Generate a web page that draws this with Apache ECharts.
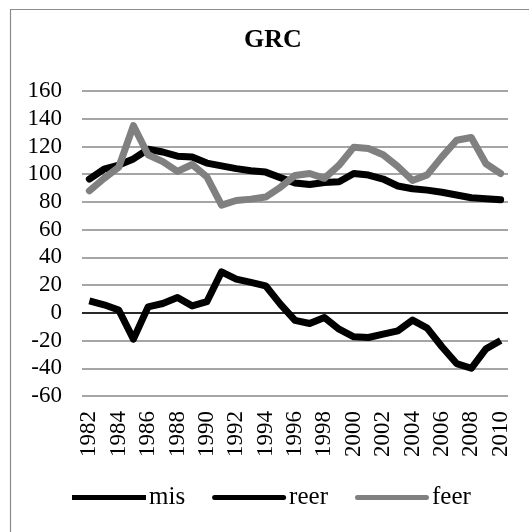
<!DOCTYPE html>
<html>
<head>
<meta charset="utf-8">
<script src="https://cdn.jsdelivr.net/npm/echarts@6/dist/echarts.min.js"></script>
<style>html,body{margin:0;padding:0;background:#fff}#c{width:529px;height:532px}</style>
</head>
<body>
<div id="c"></div>
<script>
var years = ['1982','1983','1984','1985','1986','1987','1988','1989','1990','1991','1992','1993','1994','1995','1996','1997','1998','1999','2000','2001','2002','2003','2004','2005','2006','2007','2008','2009','2010'];
var mis = [8.7, 5.8, 2, -19, 4.3, 6.7, 11, 5, 8, 29.5, 24.3, 22, 19.5, 6.3, -5.5, -7.7, -3.4, -11.8, -17.3, -17.8, -15.4, -13, -5.3, -11, -24.5, -36.6, -40, -26, -20];
var reer = [96.5, 103.7, 106.6, 111, 118, 116, 113, 112.4, 108, 106, 104, 102.5, 101.5, 97.5, 93.6, 92.5, 94, 94.5, 100.5, 99.4, 96.5, 91.5, 89.5, 88.5, 87, 85, 83, 82.3, 81.5];
var feer = [88, 97, 105, 135, 114, 109, 102, 107, 98, 77.7, 81, 82, 83.5, 90.5, 99, 100.5, 97, 106.5, 119.5, 118.5, 114, 105.5, 95.5, 99.5, 112.5, 124.5, 126.5, 107.5, 100.5];
var yTicks = {min: -60, max: 160, interval: 20};

var FONT = "'Liberation Serif', 'Times New Roman', serif";
var chart = echarts.init(document.getElementById('c'), null, {renderer: 'canvas'});
var capPath = 'path://M2.5,0 L71.5,0 A2.5,2.5 0 0 1 71.5,5 L2.5,5 A2.5,2.5 0 0 1 2.5,0 Z';
chart.setOption({
  backgroundColor: '#fff',
  animation: false,
  graphic: [{
    type: 'rect', left: 8, top: 7, silent: true,
    shape: {width: 540, height: 540},
    style: {fill: 'none', stroke: '#8c8c8c', lineWidth: 1.2}
  }],
  title: {
    text: 'GRC', left: 244, top: 27, padding: 0,
    textStyle: {fontFamily: FONT, fontSize: 26, fontWeight: 'bold', color: '#000'}
  },
  legend: {
    left: 72, top: 485, padding: 0, itemGap: 27, itemWidth: 74, itemHeight: 5,
    textStyle: {fontFamily: FONT, fontSize: 25, color: '#000', padding: [0, 0, 0, -2]},
    data: [
      {name: 'mis', icon: 'rect'},
      {name: 'reer', icon: capPath},
      {name: 'feer', icon: capPath}
    ]
  },
  grid: {left: 82, right: 21, top: 91, bottom: 136},
  xAxis: {
    type: 'category', data: years, boundaryGap: true,
    axisLine: {show: false}, axisTick: {show: false},
    axisLabel: {interval: 1, rotate: 90, margin: 15, fontFamily: FONT, fontSize: 23, color: '#000'},
    splitLine: {show: false}
  },
  yAxis: {
    type: 'value', min: yTicks.min, max: yTicks.max, interval: yTicks.interval,
    axisLine: {show: false}, axisTick: {show: false},
    axisLabel: {margin: 20, fontFamily: FONT, fontSize: 23, color: '#000'},
    splitLine: {lineStyle: {color: '#a5a5a5', width: 2}}
  },
  series: [
    {name: 'mis', type: 'line', data: mis, symbol: 'none', color: '#000',
     lineStyle: {color: '#000', width: 7, cap: 'butt', join: 'round'},
     markLine: {silent: true, symbol: 'none', label: {show: false},
       lineStyle: {color: '#000', width: 1.5, type: 'solid'}, data: [{yAxis: 0}]}},
    {name: 'reer', type: 'line', data: reer, symbol: 'none', color: '#000',
     lineStyle: {color: '#000', width: 7, cap: 'round', join: 'round'}},
    {name: 'feer', type: 'line', data: feer, symbol: 'none', color: '#808080',
     lineStyle: {color: '#808080', width: 7, cap: 'round', join: 'round'}}
  ]
});
</script>
</body>
</html>
